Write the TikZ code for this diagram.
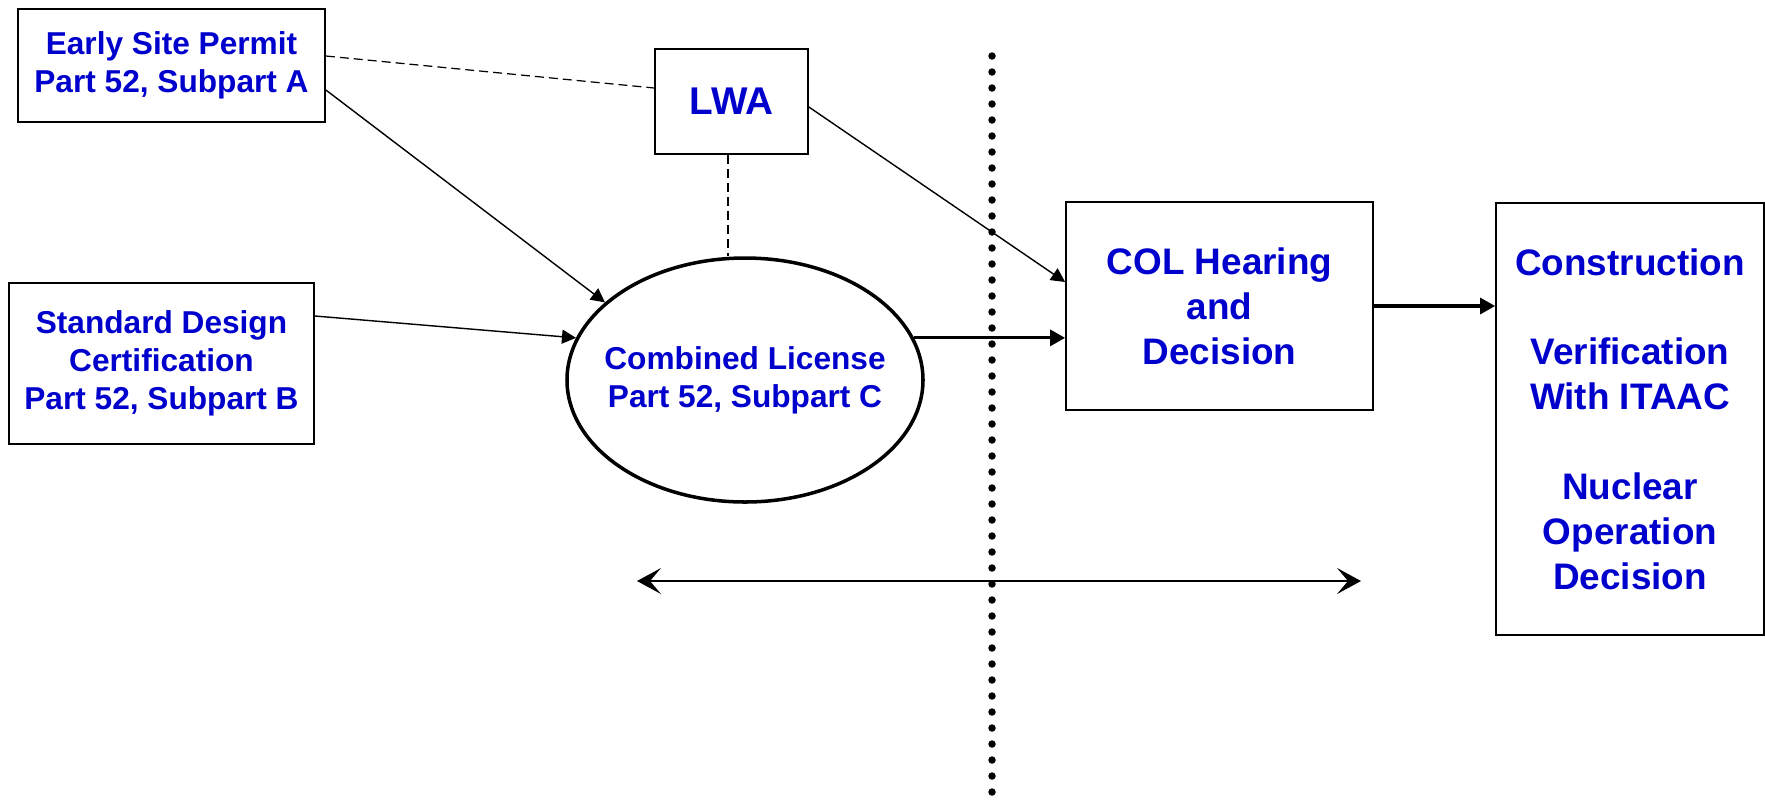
\documentclass[tikz,border=0pt]{standalone}
\usepackage{fontspec}
\setmainfont{Liberation Sans}
\usetikzlibrary{arrows.meta,shapes.geometric}
\definecolor{ncblue}{RGB}{0,0,204}

\begin{document}
\begin{tikzpicture}
\tikzstyle{bx}=[draw, line width=1pt, inner sep=0pt, align=center, text=ncblue, font=\bfseries\fontsize{18}{21.6}\selectfont]
\tikzstyle{big}=[font=\bfseries\fontsize{21}{25.5}\selectfont]
\tikzstyle{ar}=[-{Triangle[length=0.28cm,width=0.28cm]}, line width=0.8pt]
\tikzstyle{thk}=[-{Triangle[length=0.3cm,width=0.32cm]}, line width=1.8pt]
\tikzstyle{ds}=[dash pattern=on 0.18cm off 0.1cm, line width=0.7pt]
\tikzstyle{span}=[<->, >={Stealth[length=0.48cm,width=0.52cm,inset=0.22cm]}, line width=0.9pt]

\useasboundingbox (0,0) rectangle (35.3,-15.98);

\node[bx, minimum width=6.14cm, minimum height=2.26cm] (ESP) at (3.43,-1.31) {Early Site Permit\\Part 52, Subpart A};
\node[bx, minimum width=6.1cm, minimum height=3.22cm] (SDC) at (3.23,-7.27) {Standard Design\\Certification\\Part 52, Subpart B};
\node[bx, font=\bfseries\fontsize{22}{26}\selectfont, minimum width=3.06cm, minimum height=2.1cm] (LWA) at (14.63,-2.03) {LWA};
\node[bx, ellipse, line width=2pt, inner xsep=-1cm, minimum width=7.12cm, minimum height=4.88cm] (CL) at (14.9,-7.6) {Combined License\\Part 52, Subpart C};
\node[bx, big, minimum width=6.14cm, minimum height=4.16cm] (COL) at (24.39,-6.12) {COL Hearing\\and\\Decision};
\node[bx, big, minimum width=5.36cm, minimum height=8.64cm] (CON) at (32.6,-8.38) {Construction\\[25.5pt]Verification\\With ITAAC\\[25.5pt]Nuclear\\Operation\\Decision};

% divider
\coordinate (dt) at (19.84,-1.12);
\coordinate (db) at (19.84,-15.98);
\draw[line width=0.15cm, line cap=round, dash pattern=on 0pt off 0.32cm] (dt) -- (db);

\draw[ds] ([yshift=0.19cm]ESP.east) -- ([yshift=0.27cm]LWA.west);
\draw[ds] ([xshift=-0.07cm]LWA.south) -- ([xshift=-0.07cm]LWA.south |- CL.north);
\draw[ar] ([yshift=-0.49cm]ESP.east) -- (CL.151);
\draw[ar] ([yshift=0.95cm]SDC.east) -- (CL.166);
\draw[ar] ([yshift=-0.11cm]LWA.east) -- ([yshift=0.48cm]COL.west);
\draw[thk] (CL.14) -- (CL.14 -| COL.west);
\draw[thk] (COL.east) -- (COL.east -| CON.west);

% time span
\coordinate (hl) at (12.74,-11.62);
\coordinate (hr) at (27.22,-11.62);
\draw[span] (hl) -- (hr);
\end{tikzpicture}
\end{document}
